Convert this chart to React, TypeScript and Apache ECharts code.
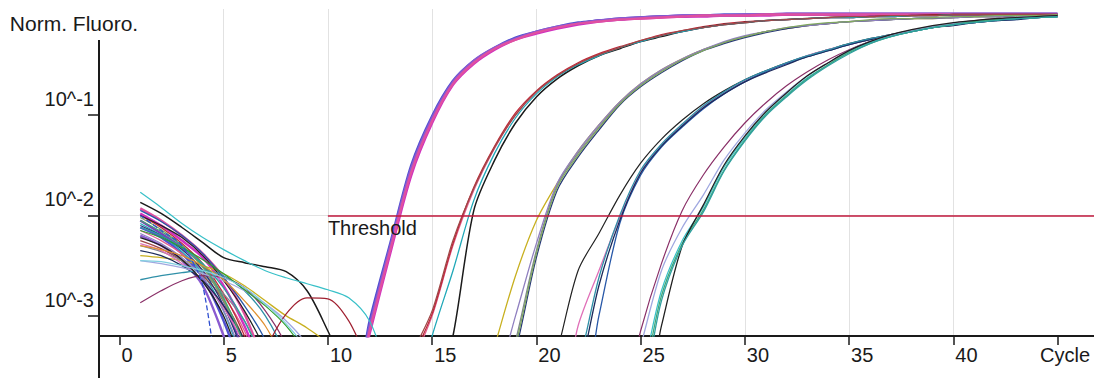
import React, { useEffect, useRef } from "react";
import * as echarts from "echarts";

// PCR cycle numbers (x) and axis ticks
const cycles = [
  1, 2, 3, 4, 5, 6, 7, 8, 9, 10, 11, 12, 13, 14, 15, 16, 17, 18, 19, 20,
  21, 22, 23, 24, 25, 26, 27, 28, 29, 30, 31, 32, 33, 34, 35, 36, 37, 38, 39, 40,
  41, 42, 43, 44, 45,
];
const xTickCycles = [0, 5, 10, 15, 20, 25, 30, 35, 40, 45];
const xLabelCycles = [0, 5, 10, 15, 20, 25, 30, 35, 40];
const yTickExponents = [-3, -2, -1];
const xMin = -0.98;
const xMax = 46.75;
const yMin = -3.2;
const yMax = 0.055;
const thresholdLog = -2;
const thresholdStartCycle = 10;

// log10(normalised fluorescence) per cycle; -4 = below the visible range
const wellA1 = [
  -2.05, -2.18, -2.32, -2.5, -2.85, -3.4, -4, -4, -4, -4,
  -4, -3.12, -2.32, -1.55, -1.05, -0.68, -0.47, -0.34, -0.24, -0.18,
  -0.13, -0.09, -0.06, -0.05, -0.03, -0.02, -0.02, -0.01, -0.01, -0.01,
  0, 0, 0, 0, 0, 0, 0, 0, 0, 0, 0, 0, 0, 0, 0,
];
const wellA2 = [
  -2.12, -2.22, -2.38, -2.62, -3.05, -3.6, -4, -4, -4, -4,
  -4, -3.05, -2.27, -1.5, -1.01, -0.66, -0.46, -0.33, -0.23, -0.17,
  -0.12, -0.08, -0.06, -0.04, -0.03, -0.02, -0.01, -0.01, 0, 0,
  0, 0, 0, 0, 0, 0, 0, 0, 0, 0, 0, 0, 0, 0, 0,
];
const wellA3 = [
  -1.98, -2.1, -2.25, -2.42, -2.7, -3.1, -3.6, -4, -4, -4,
  -4, -3.18, -2.37, -1.6, -1.08, -0.7, -0.49, -0.35, -0.25, -0.19,
  -0.14, -0.1, -0.07, -0.05, -0.04, -0.03, -0.02, -0.02, -0.01, -0.01,
  -0.01, 0, 0, 0, 0, 0, 0, 0, 0, 0, 0, 0, 0, 0, 0,
];
const wellA4 = [
  -2.2, -2.3, -2.45, -2.7, -3.2, -3.8, -4, -4, -4, -4,
  -4, -3.1, -2.3, -1.53, -1.03, -0.67, -0.46, -0.33, -0.24, -0.17,
  -0.12, -0.09, -0.06, -0.04, -0.03, -0.02, -0.01, -0.01, -0.01, 0,
  0, 0.01, 0.01, 0.01, 0.01, 0.01, 0.01, 0.01, 0.01, 0.01, 0.01, 0.01, 0.01, 0.01, 0.01,
];
const wellA5 = [
  -1.93, -2.05, -2.2, -2.38, -2.62, -2.98, -3.5, -4, -4, -4,
  -4, -3.15, -2.34, -1.57, -1.06, -0.69, -0.48, -0.34, -0.25, -0.18,
  -0.13, -0.09, -0.07, -0.05, -0.04, -0.03, -0.02, -0.01, -0.01, -0.01,
  0, 0, 0, 0, 0, 0, 0, 0, 0, 0, 0, 0, 0, 0, 0,
];
const wellB1 = [
  -2.15, -2.25, -2.38, -2.55, -2.8, -3.15, -3.7, -4, -4, -4,
  -4, -4, -4, -3.5, -3.0, -2.3, -1.75, -1.33, -1.0, -0.77,
  -0.61, -0.49, -0.4, -0.33, -0.27, -0.21, -0.17, -0.13, -0.1, -0.08,
  -0.06, -0.05, -0.04, -0.03, -0.03, -0.02, -0.02, -0.01, -0.01, 0,
  0, 0, 0, 0, 0,
];
const wellB2 = [
  -2.0, -2.12, -2.28, -2.48, -2.78, -3.2, -3.8, -4, -4, -4,
  -4, -4, -4, -3.45, -2.98, -2.28, -1.72, -1.31, -0.98, -0.76,
  -0.6, -0.48, -0.39, -0.32, -0.26, -0.2, -0.16, -0.12, -0.09, -0.07,
  -0.06, -0.05, -0.04, -0.03, -0.02, -0.02, -0.01, -0.01, 0, 0,
  0, 0, 0, 0, 0,
];
const wellB3 = [
  -1.87, -1.98, -2.12, -2.27, -2.42, -2.47, -2.51, -2.56, -2.75, -3.15,
  -3.6, -4, -4, -4, -4, -3.2, -1.95, -1.45, -1.08, -0.82,
  -0.64, -0.51, -0.41, -0.34, -0.27, -0.22, -0.17, -0.13, -0.1, -0.08,
  -0.06, -0.05, -0.04, -0.03, -0.03, -0.02, -0.02, -0.01, -0.01, 0,
  0, 0, 0, 0, 0,
];
const wellB4 = [
  -2.08, -2.2, -2.36, -2.58, -2.95, -3.5, -4, -4, -4, -4,
  -4, -4, -4, -4, -3.2, -2.55, -1.85, -1.38, -1.03, -0.79,
  -0.62, -0.5, -0.41, -0.33, -0.27, -0.21, -0.17, -0.13, -0.1, -0.08,
  -0.06, -0.05, -0.04, -0.03, -0.03, -0.02, -0.02, -0.01, -0.01, 0,
  0, 0, 0, 0, 0,
];
const wellB5 = [
  -2.25, -2.33, -2.45, -2.6, -2.85, -3.25, -3.9, -4, -4, -4,
  -4, -4, -4, -3.4, -2.95, -2.25, -1.73, -1.32, -1.0, -0.77,
  -0.61, -0.49, -0.4, -0.33, -0.26, -0.21, -0.16, -0.13, -0.1, -0.08,
  -0.06, -0.05, -0.04, -0.03, -0.02, -0.02, -0.01, -0.01, -0.01, 0,
  0, 0, 0, 0, 0,
];
const wellC1 = [
  -2.4, -2.42, -2.45, -2.5, -2.58, -2.7, -2.85, -3.0, -3.12, -3.3,
  -4, -4, -4, -4, -4, -4, -4, -3.3, -2.6, -2.05,
  -1.68, -1.36, -1.1, -0.87, -0.69, -0.55, -0.44, -0.35, -0.28, -0.22,
  -0.17, -0.14, -0.11, -0.09, -0.07, -0.06, -0.05, -0.04, -0.04, -0.03,
  -0.02, -0.02, -0.01, -0.01, -0.01,
];
const wellC2 = [
  -2.3, -2.36, -2.45, -2.58, -2.78, -3.05, -3.5, -4, -4, -4,
  -4, -4, -4, -4, -4, -4, -4, -4, -3.25, -2.35,
  -1.7, -1.38, -1.12, -0.88, -0.7, -0.56, -0.45, -0.35, -0.28, -0.22,
  -0.17, -0.14, -0.11, -0.09, -0.07, -0.06, -0.05, -0.04, -0.04, -0.03,
  -0.02, -0.02, -0.01, -0.01, -0.01,
];
const wellC3 = [
  -2.1, -2.2, -2.34, -2.55, -2.9, -3.4, -4, -4, -4, -4,
  -4, -4, -4, -4, -4, -4, -4, -4, -3.35, -2.42,
  -1.75, -1.42, -1.15, -0.9, -0.72, -0.58, -0.46, -0.36, -0.29, -0.23,
  -0.18, -0.14, -0.11, -0.09, -0.07, -0.06, -0.05, -0.04, -0.03, -0.03,
  -0.02, -0.02, -0.01, -0.01, -0.01,
];
const wellC4 = [
  -2.18, -2.28, -2.42, -2.62, -2.95, -3.45, -4, -4, -4, -4,
  -4, -4, -4, -4, -4, -4, -4, -3.7, -3.0, -2.28,
  -1.68, -1.36, -1.1, -0.87, -0.69, -0.55, -0.44, -0.35, -0.27, -0.21,
  -0.17, -0.13, -0.11, -0.09, -0.07, -0.06, -0.05, -0.04, -0.03, -0.03,
  -0.02, -0.02, -0.01, -0.01, -0.01,
];
const wellC5 = [
  -2.02, -2.14, -2.3, -2.52, -2.85, -3.3, -4, -4, -4, -4,
  -4, -4, -4, -4, -4, -4, -4, -4, -3.3, -2.38,
  -1.72, -1.4, -1.13, -0.89, -0.71, -0.57, -0.45, -0.36, -0.28, -0.22,
  -0.17, -0.13, -0.1, -0.08, -0.07, -0.05, -0.04, -0.04, -0.03, -0.02,
  -0.02, -0.01, -0.01, -0.01, 0,
];
const wellD1 = [
  -2.0, -2.1, -2.22, -2.4, -2.65, -2.95, -3.35, -4, -4, -4,
  -4, -4, -4, -4, -4, -4, -4, -4, -4, -4,
  -3.35, -2.55, -2.18, -1.8, -1.48, -1.24, -1.05, -0.89, -0.76, -0.65,
  -0.56, -0.48, -0.41, -0.35, -0.29, -0.24, -0.2, -0.16, -0.13, -0.1,
  -0.08, -0.06, -0.04, -0.03, -0.02,
];
const wellD2 = [
  -2.28, -2.35, -2.48, -2.65, -2.92, -3.3, -4, -4, -4, -4,
  -4, -4, -4, -4, -4, -4, -4, -4, -4, -4,
  -4, -3.1, -2.55, -2.02, -1.57, -1.3, -1.1, -0.92, -0.78, -0.66,
  -0.57, -0.49, -0.41, -0.35, -0.3, -0.25, -0.2, -0.16, -0.13, -0.1,
  -0.08, -0.06, -0.04, -0.03, -0.02,
];
const wellD3 = [
  -1.95, -2.06, -2.2, -2.38, -2.62, -2.9, -3.25, -4, -4, -4,
  -4, -4, -4, -4, -4, -4, -4, -4, -4, -4,
  -4, -4, -3.0, -2.08, -1.6, -1.32, -1.12, -0.94, -0.79, -0.67,
  -0.57, -0.49, -0.42, -0.36, -0.3, -0.25, -0.21, -0.17, -0.13, -0.1,
  -0.08, -0.06, -0.05, -0.03, -0.02,
];
const wellD4 = [
  -2.35, -2.4, -2.5, -2.65, -2.9, -3.25, -4, -4, -4, -4,
  -4, -4, -4, -4, -4, -4, -4, -4, -4, -4,
  -4, -3.6, -2.7, -2.05, -1.58, -1.31, -1.11, -0.93, -0.79, -0.67,
  -0.58, -0.5, -0.42, -0.36, -0.3, -0.25, -0.21, -0.17, -0.13, -0.11,
  -0.08, -0.06, -0.05, -0.03, -0.02,
];
const wellD5 = [
  -2.64, -2.6, -2.57, -2.55, -2.6, -2.75, -3.0, -3.4, -4, -4,
  -4, -4, -4, -4, -4, -4, -4, -4, -4, -4,
  -4, -3.5, -2.62, -2.0, -1.55, -1.29, -1.09, -0.91, -0.77, -0.65,
  -0.56, -0.48, -0.41, -0.35, -0.29, -0.24, -0.2, -0.16, -0.12, -0.1,
  -0.07, -0.05, -0.04, -0.03, -0.02,
];
const wellE1 = [
  -2.87, -2.75, -2.65, -2.6, -2.62, -2.72, -2.95, -3.3, -4, -4,
  -4, -4, -4, -4, -4, -4, -4, -4, -4, -4,
  -4, -4, -4, -4, -3.15, -2.48, -1.95, -1.6, -1.32, -1.08,
  -0.88, -0.71, -0.57, -0.45, -0.35, -0.27, -0.21, -0.16, -0.12, -0.09,
  -0.06, -0.04, -0.03, -0.02, -0.01,
];
const wellE2 = [
  -2.45, -2.48, -2.52, -2.58, -2.65, -2.75, -2.88, -3.05, -3.3, -4,
  -4, -4, -4, -4, -4, -4, -4, -4, -4, -4,
  -4, -4, -4, -4, -3.3, -2.55, -2.12, -1.8, -1.45, -1.18,
  -0.95, -0.77, -0.61, -0.48, -0.36, -0.27, -0.21, -0.16, -0.12, -0.09,
  -0.07, -0.05, -0.03, -0.02, -0.02,
];
const wellE3 = [
  -1.77, -1.92, -2.08, -2.22, -2.34, -2.45, -2.55, -2.62, -2.68, -2.74,
  -2.82, -3.05, -3.6, -4, -4, -4, -4, -4, -4, -4,
  -4, -4, -4, -4, -3.6, -2.75, -2.25, -1.92, -1.52, -1.23,
  -0.99, -0.8, -0.63, -0.5, -0.37, -0.28, -0.22, -0.17, -0.13, -0.1,
  -0.07, -0.05, -0.04, -0.03, -0.02,
];
const wellE4 = [
  -2.05, -2.16, -2.3, -2.5, -2.82, -3.3, -4, -4, -4, -4,
  -4, -4, -4, -4, -4, -4, -4, -4, -4, -4,
  -4, -4, -4, -4, -3.7, -2.8, -2.28, -1.95, -1.55, -1.25,
  -1.0, -0.81, -0.64, -0.5, -0.38, -0.29, -0.22, -0.17, -0.13, -0.1,
  -0.07, -0.05, -0.04, -0.03, -0.02,
];
const wellE5 = [
  -2.22, -2.3, -2.44, -2.66, -3.0, -3.55, -4, -4, -4, -4,
  -4, -4, -4, -4, -4, -4, -4, -4, -4, -4,
  -4, -4, -4, -4, -4, -3.1, -2.3, -1.9, -1.5, -1.21,
  -0.97, -0.78, -0.61, -0.48, -0.36, -0.27, -0.2, -0.15, -0.11, -0.08,
  -0.06, -0.04, -0.03, -0.02, -0.01,
];
const wellE6 = [
  -2.12, -2.2, -2.32, -2.48, -2.72, -3.05, -3.5, -4, -4, -4,
  -4, -4, -4, -4, -4, -4, -4, -4, -4, -4,
  -4, -4, -4, -4, -3.8, -2.85, -2.3, -1.97, -1.56, -1.26,
  -1.01, -0.82, -0.65, -0.51, -0.39, -0.29, -0.22, -0.17, -0.13, -0.1,
  -0.08, -0.06, -0.04, -0.03, -0.02,
];
// no-template controls: only the early noise is visible
const wellN1 = [-3.4, -3.6, -3.8, -4, -4, -3.9, -3.35, -2.98, -2.82, -2.83, -3.05, -3.5, -4];
const wellN2 = [-2.15, -2.22, -2.32, -2.44, -2.58, -2.74, -2.9, -3.1, -3.4, -4];
const wellN3 = [-2.3, -2.34, -2.4, -2.5, -2.64, -2.85, -3.1, -3.5, -4];
const wellN4 = [-2.0, -2.15, -2.3, -2.7, -4.2];
const wellN5 = [-2.45, -2.46, -2.5, -2.55, -2.62, -2.72, -2.88, -3.08, -3.35, -4];

const wells = [
  { name: "A1", values: wellA1 }, { name: "A2", values: wellA2 },
  { name: "A3", values: wellA3 }, { name: "A4", values: wellA4 },
  { name: "A5", values: wellA5 },
  { name: "B1", values: wellB1 }, { name: "B2", values: wellB2 },
  { name: "B3", values: wellB3 }, { name: "B4", values: wellB4 },
  { name: "B5", values: wellB5 },
  { name: "C1", values: wellC1 }, { name: "C2", values: wellC2 },
  { name: "C3", values: wellC3 }, { name: "C4", values: wellC4 },
  { name: "C5", values: wellC5 },
  { name: "D1", values: wellD1 }, { name: "D2", values: wellD2 },
  { name: "D3", values: wellD3 }, { name: "D4", values: wellD4 },
  { name: "D5", values: wellD5 },
  { name: "E1", values: wellE1 }, { name: "E2", values: wellE2 },
  { name: "E3", values: wellE3 }, { name: "E4", values: wellE4 },
  { name: "E5", values: wellE5 }, { name: "E6", values: wellE6 },
  { name: "NTC1", values: wellN1 }, { name: "NTC2", values: wellN2 },
  { name: "NTC3", values: wellN3 }, { name: "NTC4", values: wellN4 },
  { name: "NTC5", values: wellN5 },
];

// styles (kept apart from the data)
const wellColors = [
  "#7a3fb8", "#5050d0", "#d030c0", "#8a5ad0", "#e050a0",
  "#e06090", "#c02838", "#1a1a1a", "#20a8b8", "#a04848",
  "#c8b020", "#808890", "#283878", "#9080c0", "#80a860",
  "#222222", "#e070b8", "#2858a8", "#1c2c5c", "#3090a8",
  "#8a3068", "#a0a8e0", "#38c0c8", "#40a878", "#202020", "#30a0a0",
  "#a02030", "#30a030", "#e09030", "#3050d0", "#80d0e0",
];
const wellWidths = [
  2.4, 2.4, 2.4, 2.4, 2.4,
  1.3, 1.3, 1.5, 1.3, 1.3,
  1.3, 1.3, 1.3, 1.3, 1.3,
  1.2, 1.3, 1.3, 1.3, 1.3,
  1.2, 1.3, 1.2, 1.3, 1.3, 1.3,
  1.2, 1.2, 1.2, 1.3, 1.2,
];
const FONT = "'Liberation Sans', Arial, sans-serif";
const INK = "#1a1a1a";
const GRID = "#e2e2e2";

export default function App() {
  const ref = useRef<HTMLDivElement>(null);

  useEffect(() => {
    if (!ref.current) return;
    const chart = echarts.init(ref.current, undefined, { renderer: "svg" });

    const wellSeries = wells.map((w, i) => ({
      type: "line",
      name: w.name,
      data: w.values.map((v, k) => [cycles[k], v]),
      symbol: "none",
      showSymbol: false,
      smooth: 0.3,
      silent: true,
      clip: true,
      emphasis: { disabled: true },
      lineStyle: {
        color: wellColors[i],
        width: wellWidths[i],
        type: w.name === "NTC4" ? "dashed" : "solid",
      },
      itemStyle: { color: wellColors[i] },
    }));

    chart.setOption({
      animation: false,
      backgroundColor: "#ffffff",
      textStyle: { fontFamily: FONT },
      grid: { left: 99, right: 0, top: 9, bottom: 42, containLabel: false, outerBoundsMode: "none" },
      xAxis: {
        type: "value",
        min: xMin,
        max: xMax,
        splitNumber: 10,
        axisLine: { show: true, onZero: false, lineStyle: { color: INK, width: 2 } },
        axisTick: { show: true, customValues: xTickCycles, length: 9, lineStyle: { color: INK, width: 1.5 } },
        axisLabel: {
          customValues: xLabelCycles,
          align: "left",
          padding: [0, 0, 0, 2],
          margin: 9,
          fontSize: 20,
          color: INK,
          fontFamily: FONT,
        },
        splitLine: { show: true, showMinLine: false, showMaxLine: false, lineStyle: { color: GRID, width: 1 } },
        name: "Cycle",
        nameLocation: "end",
        nameGap: -54,
        nameMoveOverlap: false,
        nameTextStyle: { align: "left", verticalAlign: "top", padding: [9, 0, 0, 0], fontSize: 20, color: INK, fontFamily: FONT },
      },
      yAxis: {
        type: "value",
        min: yMin,
        max: yMax,
        axisLine: { show: false, onZero: false },
        axisTick: { show: true, customValues: yTickExponents, length: 11, lineStyle: { color: INK, width: 1.5 } },
        axisLabel: {
          customValues: yTickExponents,
          formatter: (v: number) => `10^${v}`,
          margin: 5,
          verticalAlign: "bottom",
          padding: [0, 0, 6, 0],
          fontSize: 20,
          color: INK,
          fontFamily: FONT,
        },
        splitLine: { show: true, showMinLine: false, showMaxLine: false, lineStyle: { color: GRID, width: 1 } },
        name: "Norm. Fluoro.",
        nameLocation: "end",
        nameGap: -14,
        nameMoveOverlap: false,
        nameTextStyle: { align: "center", verticalAlign: "middle", padding: [0, 50, 0, 0], fontSize: 21, color: INK, fontFamily: FONT },
      },
      graphic: [
        {
          type: "line",
          shape: { x1: 99, y1: 40, x2: 99, y2: 378 },
          style: { stroke: INK, lineWidth: 2 },
          silent: true,
          z: 10,
        },
      ],
      series: [
        ...wellSeries,
        {
          type: "line",
          name: "Threshold",
          data: [],
          silent: true,
          markLine: {
            silent: true,
            symbol: ["none", "none"],
            lineStyle: { color: "#c0183c", width: 1.5, type: "solid" },
            emphasis: { disabled: true },
            label: {
              show: true,
              position: "insideStartBottom",
              formatter: "Threshold",
              color: INK,
              fontSize: 20,
              fontFamily: FONT,
              distance: [0, 3],
            },
            data: [[{ coord: [thresholdStartCycle, thresholdLog] }, { coord: [xMax, thresholdLog] }]],
          },
        },
      ],
    } as any);

    return () => chart.dispose();
  }, []);

  return (
    <div
      ref={ref}
      style={{ position: "absolute", left: 0, top: 0, width: 1094, height: 378, background: "#fff" }}
    />
  );
}
